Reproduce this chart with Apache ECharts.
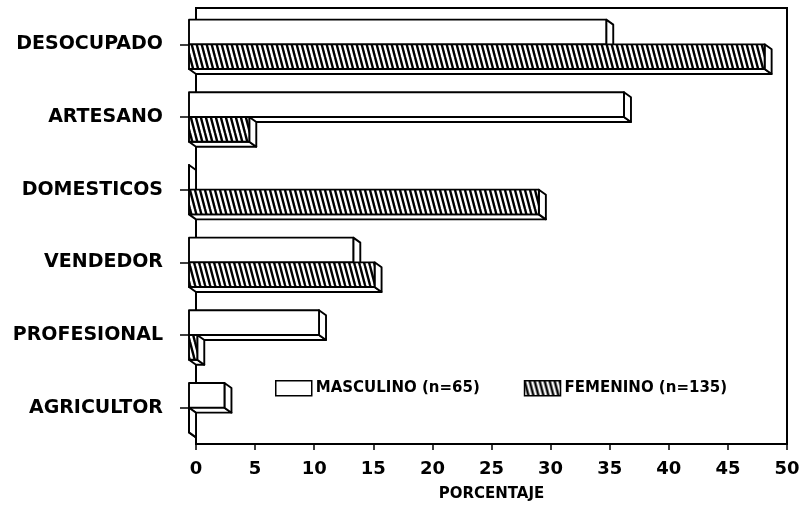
<!DOCTYPE html>
<html><head><meta charset="utf-8">
<script src="https://cdn.jsdelivr.net/npm/echarts@6/dist/echarts.min.js"></script>
<style>html,body{margin:0;padding:0;background:#fff}#c{width:804px;height:507px}</style>
</head><body><div id="c"></div>
<script>
const categories = ['DESOCUPADO','ARTESANO','DOMESTICOS','VENDEDOR','PROFESIONAL','AGRICULTOR'];
const masculino = [35.3, 36.8, 0, 13.9, 11.0, 3.0];
const femenino = [48.7, 5.1, 29.6, 15.7, 0.7, 0];
const xTicks = [0,5,10,15,20,25,30,35,40,45,50];
const nameM = 'MASCULINO (n=65)';
const nameF = 'FEMENINO (n=135)';

// hatch tile
const tile = document.createElement('canvas');
tile.width = 5; tile.height = 19;
const tc = tile.getContext('2d');
tc.fillStyle = '#fff'; tc.fillRect(0,0,5,19);
tc.strokeStyle = '#000'; tc.lineWidth = 2.4;
for (let k=-1;k<=1;k++){ tc.beginPath(); tc.moveTo(k*5,0); tc.lineTo(k*5+5,19); tc.stroke(); }
const hatch = {image: tile, repeat: 'repeat'};

function makeRender(sign, fill){
  return function(params, api){
    const v = api.value(0), c = api.value(1);
    const base = api.coord([0, c]);
    const end = api.coord([v, c]);
    const bh = api.size([0,1])[1] * 0.34;
    const dx = 7, dy = 5;
    const xl = base[0]-dx, xr = end[0]-dx;
    const yt = sign < 0 ? base[1]-bh : base[1];
    const yb = yt + bh;
    const st = {stroke:'#000', lineWidth:1.9, lineJoin:'round'};
    return {type:'group', children:[
      {type:'polygon', shape:{points:[[xl,yb],[xr,yb],[xr+dx,yb+dy],[xl+dx,yb+dy]]}, style:Object.assign({fill:'#fff'}, st)},
      {type:'polygon', shape:{points:[[xr,yt],[xr+dx,yt+dy],[xr+dx,yb+dy],[xr,yb]]}, style:Object.assign({fill:'#fff'}, st)},
      {type:'rect', shape:{x:xl, y:yt, width:Math.max(xr-xl,0), height:bh}, style:Object.assign({fill:fill}, st)}
    ]};
  };
}

const chart = echarts.init(document.getElementById('c'), null, {renderer:'canvas'});
chart.setOption({
  animation:false,
  backgroundColor:'#fff',
  textStyle:{fontFamily:'DejaVu Sans', color:'#000'},
  grid:{left:196, right:17, top:8, bottom:62, show:true, borderColor:'#000', borderWidth:2},
  xAxis:{type:'value', min:0, max:50, interval:5,
    name:'PORCENTAJE', nameLocation:'middle', nameGap:43,
    nameTextStyle:{fontFamily:'DejaVu Sans', fontWeight:'bold', fontSize:15, color:'#000'},
    axisLine:{show:true, lineStyle:{color:'#000', width:2}},
    axisTick:{show:true, length:6, lineStyle:{color:'#000', width:1.5}},
    splitLine:{show:false},
    axisLabel:{margin:16, fontFamily:'DejaVu Sans', fontWeight:'bold', fontSize:18, color:'#000',
      formatter: v => xTicks.indexOf(v) >= 0 ? String(v) : ''}
  },
  yAxis:{type:'category', data:categories, inverse:true,
    axisLine:{show:true, lineStyle:{color:'#000', width:1.5}},
    axisTick:{show:true, alignWithLabel:true, length:16, lineStyle:{color:'#000', width:1.5}},
    axisLabel:{margin:33, fontFamily:'DejaVu Sans', fontWeight:'bold', fontSize:19, color:'#000'}
  },
  legend:{left:275, top:380, padding:0, itemWidth:36, itemHeight:15, itemGap:44,
    textStyle:{fontFamily:'DejaVu Sans', fontWeight:'bold', fontSize:15, color:'#000', padding:[0,0,0,-1]},
    data:[
      {name:nameM, icon:'rect', itemStyle:{color:'#fff', borderColor:'#000', borderWidth:1.5}},
      {name:nameF, icon:'rect', itemStyle:{color:hatch, borderColor:'#000', borderWidth:1.5}}
    ]},
  series:[
    {type:'custom', name:nameM, renderItem:makeRender(-1, '#fff'), encode:{x:0, y:1},
      itemStyle:{color:'#fff', borderColor:'#000'},
      data: masculino.map((v,i)=>[v,i])},
    {type:'custom', name:nameF, renderItem:makeRender(1, hatch), encode:{x:0, y:1},
      itemStyle:{color:hatch, borderColor:'#000'},
      data: femenino.map((v,i)=>[v,i])}
  ]
});
</script></body></html>
